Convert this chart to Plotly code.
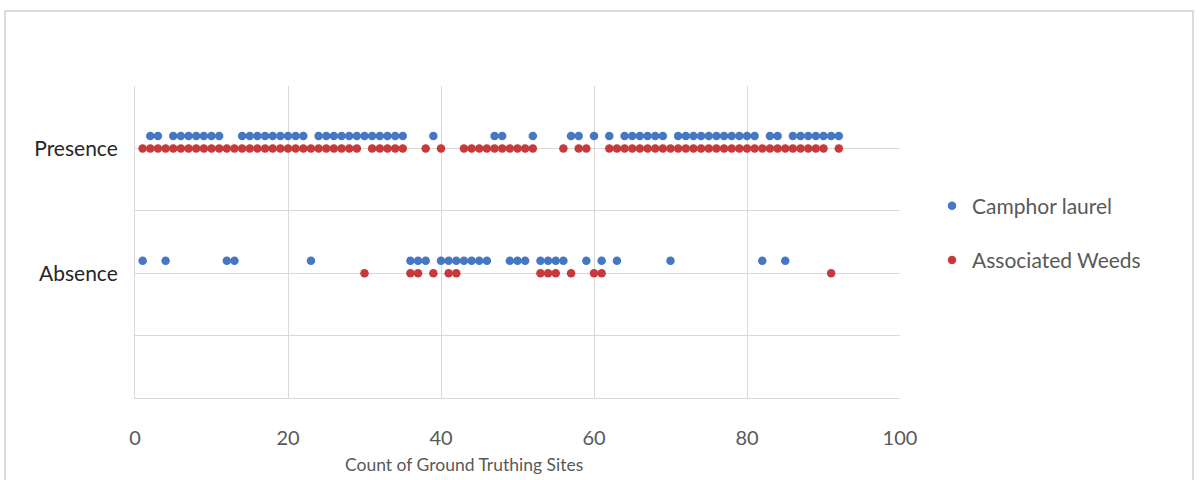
import plotly.graph_objects as go

# Site indices (1..92) grouped by status
camphor_presence = [2, 3, 5, 6, 7, 8, 9, 10, 11, 14, 15, 16, 17, 18, 19, 20, 21, 22,
                    24, 25, 26, 27, 28, 29, 30, 31, 32, 33, 34, 35, 39, 47, 48, 52, 57, 58,
                    60, 62, 64, 65, 66, 67, 68, 69, 71, 72, 73, 74, 75, 76, 77, 78, 79, 80,
                    81, 83, 84, 86, 87, 88, 89, 90, 91, 92]
camphor_absence = [1, 4, 12, 13, 23, 36, 37, 38, 40, 41, 42, 43, 44, 45, 46, 49, 50, 51,
                   53, 54, 55, 56, 59, 61, 63, 70, 82, 85]
weeds_presence = [1, 2, 3, 4, 5, 6, 7, 8, 9, 10, 11, 12, 13, 14, 15, 16, 17, 18, 19, 20,
                  21, 22, 23, 24, 25, 26, 27, 28, 29, 31, 32, 33, 34, 35, 38, 40, 43, 44,
                  45, 46, 47, 48, 49, 50, 51, 52, 56, 58, 59, 62, 63, 64, 65, 66, 67, 68,
                  69, 70, 71, 72, 73, 74, 75, 76, 77, 78, 79, 80, 81, 82, 83, 84, 85, 86,
                  87, 88, 89, 90, 92]
weeds_absence = [30, 36, 37, 39, 41, 42, 53, 54, 55, 57, 60, 61, 91]

PRESENCE = 2.0
ABSENCE = 1.0
CAMPHOR_OFFSET = 0.1

y_tickvals = [0, 0.5, 1, 1.5, 2, 2.5]
y_ticktext = ["", "", "Absence", "", "Presence", ""]
x_tickvals = [0, 20, 40, 60, 80, 100]
x_title = "Count of Ground Truthing Sites"

BLUE = "#4677C2"
RED = "#C8393C"
FONT = "Lato"

fig = go.Figure()
fig.add_trace(go.Scatter(
    x=camphor_presence + camphor_absence,
    y=[PRESENCE + CAMPHOR_OFFSET] * len(camphor_presence) + [ABSENCE + CAMPHOR_OFFSET] * len(camphor_absence),
    mode="markers", name="Camphor laurel", legendgroup="a",
    marker=dict(color=BLUE, size=8.5, line=dict(width=0)),
))
fig.add_trace(go.Scatter(
    x=weeds_presence + weeds_absence,
    y=[PRESENCE] * len(weeds_presence) + [ABSENCE] * len(weeds_absence),
    mode="markers", name="Associated Weeds", legendgroup="b",
    marker=dict(color=RED, size=8.5, line=dict(width=0)),
))

W, H = 1203, 480
L, R, T, B = 135, 900, 86, 398
pw, ph = R - L, B - T

def px(xp):
    return (xp - L) / pw

def py(yp):
    return (B - yp) / ph

fig.update_layout(
    width=W, height=H,
    margin=dict(l=L, r=W - R, t=T, b=H - B, autoexpand=False),
    paper_bgcolor="white", plot_bgcolor="white",
    font=dict(family=FONT, color="#595959"),
    showlegend=True,
    legend=dict(x=px(932), y=py(233), xanchor="left", yanchor="middle",
                font=dict(size=21, color="#595959", family=FONT),
                tracegroupgap=24, itemsizing="trace", bgcolor="rgba(0,0,0,0)"),
    xaxis=dict(range=[0, 100], tickvals=x_tickvals, showgrid=True, gridcolor="#D9D9D9",
               gridwidth=1, zeroline=False, showline=True, linecolor="#D9D9D9",
               ticks="", tickfont=dict(size=20, color="#595959", family=FONT),
               ticklabelstandoff=22),
    yaxis=dict(range=[0, 2.5], tickvals=y_tickvals, ticktext=y_ticktext, showgrid=True,
               gridcolor="#D9D9D9", gridwidth=1, zeroline=False, showline=True,
               linecolor="#D9D9D9", ticks="",
               tickfont=dict(size=21, color="#262626", family=FONT),
               ticklabelstandoff=12),
    annotations=[dict(text=x_title, xref="paper", yref="paper", x=px(464), y=py(465),
                      xanchor="center", yanchor="middle", showarrow=False,
                      font=dict(size=17.5, color="#595959", family=FONT))],
    shapes=[dict(type="rect", xref="paper", yref="paper",
                 x0=px(5), x1=px(1193), y0=py(500), y1=py(11),
                 line=dict(color="#D0D0D0", width=1.5), layer="below")],
)

fig.write_html("out.html")
